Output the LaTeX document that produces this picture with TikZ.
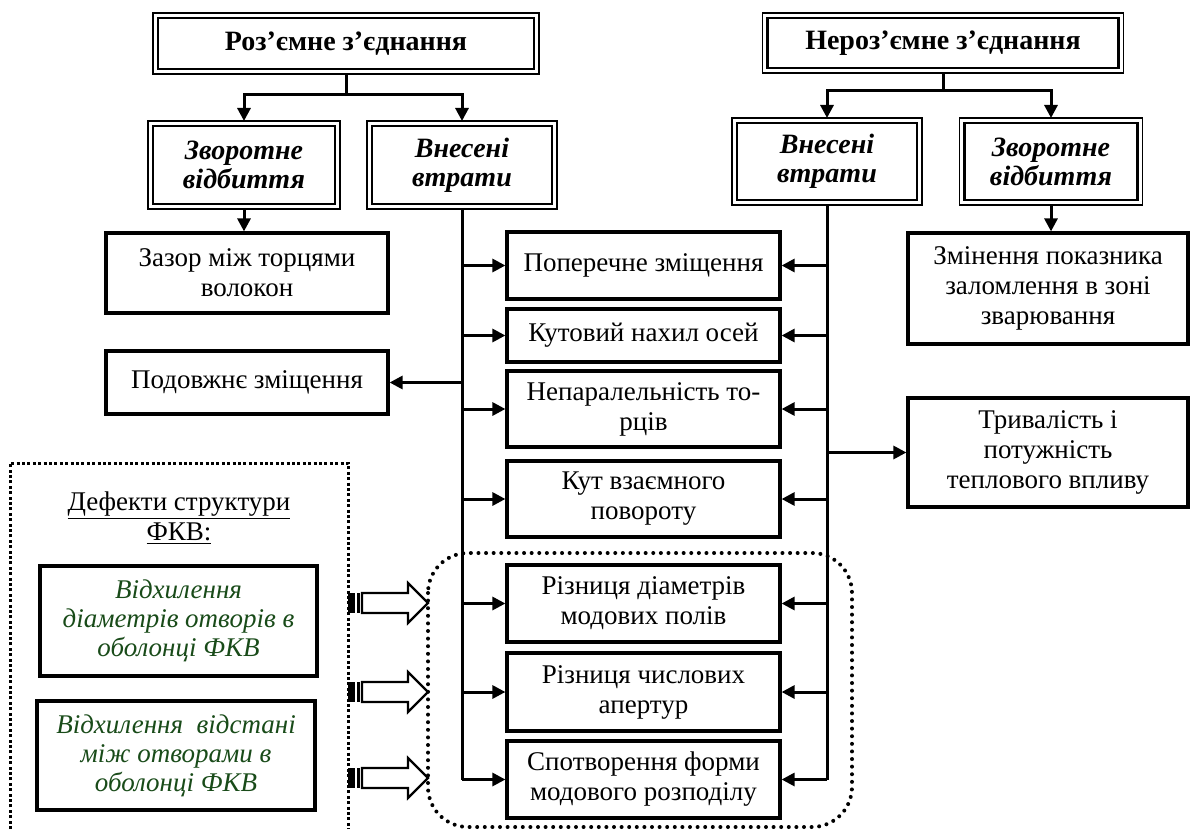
\documentclass[tikz,border=0pt]{standalone}
\usepackage{fontspec}
\setmainfont{Liberation Serif}
\usetikzlibrary{arrows.meta}
\definecolor{DefGreen}{RGB}{25,75,25}

\begin{document}
\begin{tikzpicture}[x=0.5pt,y=-0.5pt]
\tikzset{box/.style = {draw, line width=1.6pt, inner sep=0pt, align=center, font=\fontsize{13.5}{15}\selectfont}}
\tikzset{dbox/.style = {draw, line width=1.2pt, inner sep=0pt, outer sep=2.5pt, align=center, font=\fontsize{14}{14.5}\selectfont\bfseries\itshape}}
\tikzset{edge/.style = {-{Triangle[length=6.5pt,width=6.5pt]}, line width=1.5pt}}
\tikzset{trunk/.style = {line width=1.5pt}}
\useasboundingbox (0,0) rectangle (1192,829);
% headers
\node[dbox, font=\fontsize{14}{16}\selectfont\bfseries, minimum width=188pt, minimum height=25.5pt] (rz) at (346,43.5) {Роз’ємне з’єднання};
\node[dbox, font=\fontsize{14}{16}\selectfont\bfseries, minimum width=175.5pt, minimum height=25pt] (nrz) at (943,43) {Нероз’ємне з’єднання};
\node[dbox, minimum width=91pt, minimum height=39pt] (zv1) at (244,165) {Зворотне\\відбиття};
\node[dbox, minimum width=90pt, minimum height=39pt] (vv1) at (462,165) {Внесені\\втрати};
\node[dbox, minimum width=90pt, minimum height=38.5pt] (vv2) at (827,161.5) {Внесені\\втрати};
\node[dbox, minimum width=86.5pt, minimum height=38.5pt] (zv2) at (1051,161.5) {Зворотне\\відбиття};
\foreach \n in {rz,nrz,zv1,vv1,vv2,zv2}
  \draw[line width=0.7pt] (\n.north west) rectangle (\n.south east);
% causes
\node[box, minimum width=141pt, minimum height=40pt] (zaz) at (247,273) {Зазор між торцями\\волокон};
\node[box, minimum width=141pt, minimum height=31.5pt] (pod) at (247,382.5) {Подовжнє зміщення};
\node[box, minimum width=136.5pt, minimum height=33.5pt] (pop) at (643.5,265.5) {Поперечне зміщення};
\node[box, minimum width=136.5pt, minimum height=26.5pt] (kut) at (643.5,335.5) {Кутовий нахил осей};
\node[box, minimum width=136.5pt, minimum height=38pt] (nep) at (643.5,409) {Непаралельність то-\\рців};
\node[box, minimum width=136.5pt, minimum height=38pt] (kvz) at (643.5,499) {Кут взаємного\\повороту};
\node[box, minimum width=136.5pt, minimum height=38.5pt] (rd) at (643.5,603.5) {Різниця діаметрів\\модових полів};
\node[box, minimum width=136.5pt, minimum height=39pt] (rc) at (643.5,692) {Різниця числових\\апертур};
\node[box, minimum width=136.5pt, minimum height=38.5pt] (sp) at (643.5,779.5) {Спотворення форми\\модового розподілу};
\node[box, minimum width=140pt, minimum height=55.5pt] (zm) at (1048,288.5) {Змінення показника\\заломлення в зоні\\зварювання};
\node[box, minimum width=140pt, minimum height=54.5pt] (tr) at (1048,452.5) {Тривалість і\\потужність\\теплового впливу};
% defects of the PCF structure
\draw[line width=1.5pt, dash pattern=on 1.5pt off 1.2pt] (10,829) -- (10,463) -- (348,463) -- (348,829);
\node[align=center, font=\fontsize{13.5}{15}\selectfont] (hd) at (179,518) {\underline{Дефекти структури}\\\underline{ФКВ:}};
\node[box, font=\fontsize{13.5}{14.5}\selectfont\itshape, text=DefGreen, minimum width=138.5pt, minimum height=55pt] (g1) at (178.5,621) {Відхилення\\діаметрів отворів в\\оболонці ФКВ};
\node[box, font=\fontsize{13.5}{14.5}\selectfont\itshape, text=DefGreen, minimum width=139pt, minimum height=54.5pt] (g2) at (176,755.5) {Відхилення\ \ відстані\\між отворами в\\оболонці ФКВ};
\draw[line width=2pt, dash pattern=on 0pt off 3.8pt, line cap=round, rounded corners=20pt] (428,553) rectangle (852,827);
\foreach \y in {603,692,778} {
  \draw[line width=1.1pt, fill=white] (362,\y-10) -- (408,\y-10) -- (408,\y-20) -- (428,\y) -- (408,\y+20) -- (408,\y+10) -- (362,\y+10) -- cycle;
  \fill (348,\y-10) rectangle (355,\y+10);
  \draw[line width=1.1pt] (358.5,\y-10) -- (358.5,\y+10);
}
% edges
\draw[edge] (rz.south) -- ++(0,21) -| (zv1.north);
\draw[edge] (rz.south) -- ++(0,21) -| (vv1.north);
\draw[edge] (nrz.south) -- ++(0,18) -| (vv2.north);
\draw[edge] (nrz.south) -- ++(0,18) -| (zv2.north);
\draw[edge] (zv1.south) -- (zv1.south |- zaz.north);
\draw[edge] (zv2.south) -- (zv2.south |- zm.north);
\draw[trunk] (vv1.south) -- (vv1.south |- sp.west);
\draw[trunk] (vv2.south) -- (vv2.south |- sp.east);
\foreach \m in {pop,kut,nep,kvz,rd,rc,sp} {
  \draw[edge] (vv1.south |- \m.west) -- (\m.west);
  \draw[edge] (vv2.south |- \m.east) -- (\m.east);
}
\draw[edge] (vv1.south |- pod.east) -- (pod.east);
\draw[edge] (vv2.south |- tr.west) -- (tr.west);
\end{tikzpicture}
\end{document}
